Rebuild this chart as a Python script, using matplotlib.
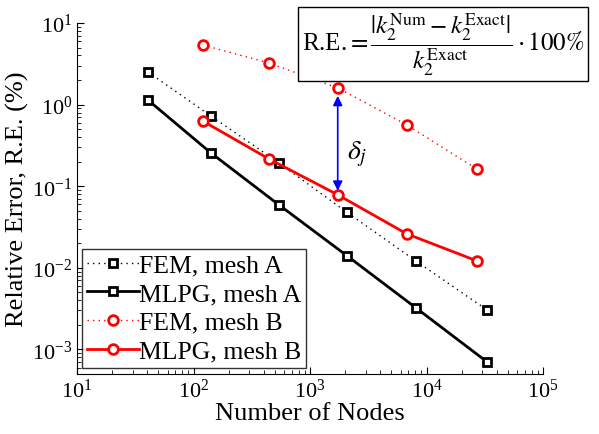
import matplotlib
matplotlib.use("Agg")
import matplotlib.pyplot as plt

plt.rcParams['font.family'] = 'serif'
plt.rcParams['font.serif'] = ['Liberation Serif', 'DejaVu Serif']
plt.rcParams['mathtext.fontset'] = 'stix'

# Data
nodes_A = [40.6, 141, 540, 2070, 8070, 32800]
fem_A = [2.51, 0.727, 0.193, 0.048, 0.0122, 0.00307]
mlpg_A = [1.14, 0.256, 0.0592, 0.0141, 0.00325, 0.00071]
nodes_B = [120, 444, 1730, 6760, 26900]
fem_B = [5.38, 3.24, 1.60, 0.565, 0.163]
mlpg_B = [0.63, 0.216, 0.0785, 0.0261, 0.0122]
labels = ['FEM, mesh A', 'MLPG, mesh A', 'FEM, mesh B', 'MLPG, mesh B']

fig = plt.figure(figsize=(5.99, 4.35), dpi=100)
ax = fig.add_axes([77/599, 60/435, 466/599, 351/435])

dot = (0, (1, 3))
ax.plot(nodes_A, fem_A, linestyle=dot, color='k', lw=1.0, marker='s', ms=6,
        mfc='white', mec='k', mew=2, label=labels[0])
ax.plot(nodes_A, mlpg_A, linestyle='-', color='k', lw=2.0, marker='s', ms=6,
        mfc='white', mec='k', mew=2, label=labels[1])
ax.plot(nodes_B, fem_B, linestyle=dot, color='red', lw=1.0, marker='o', ms=7,
        mfc='white', mec='red', mew=2, label=labels[2])
ax.plot(nodes_B, mlpg_B, linestyle='-', color='red', lw=2.0, marker='o', ms=7,
        mfc='white', mec='red', mew=2, label=labels[3])

ax.set_xscale('log')
ax.set_yscale('log')
ax.set_xlim(10, 1e5)
ax.set_ylim(5e-4, 10)
ax.spines['top'].set_visible(False)
ax.spines['right'].set_visible(False)
ax.tick_params(which='both', direction='in', labelsize=16)
ax.tick_params(which='major', length=5)
ax.tick_params(which='minor', length=3)
ax.set_xlabel('Number of Nodes', fontsize=19, labelpad=0)
ax.set_ylabel('Relative Error, R.E. (%)', fontsize=19, labelpad=2)

leg = ax.legend(loc='lower left', bbox_to_anchor=(0.011, 0.018), fontsize=18.5,
                frameon=True, fancybox=False, edgecolor='k', handlelength=2.0,
                handletextpad=0.0, borderpad=0.2, labelspacing=0.22,
                borderaxespad=0)
leg.get_frame().set_linewidth(1.0)

# arrow delta_j
xj = nodes_B[2]
ax.annotate('', xy=(xj, fem_B[2] * 0.80), xytext=(xj, mlpg_B[2] * 1.12),
            arrowprops=dict(arrowstyle='<|-|>', color='blue', lw=1.2,
                            mutation_scale=14, shrinkA=0, shrinkB=0))
ax.text(xj * 1.2, 0.25, r'$\delta_j$', fontsize=20, va='center', ha='left')

fig.text(443/599, 1 - 45/435,
         r'R.E.$=\dfrac{|k_2^{\mathrm{Num}}-k_2^{\mathrm{Exact}}|}{k_2^{\mathrm{Exact}}}\cdot 100\%$',
         fontsize=18, ha='center', va='center',
         bbox=dict(boxstyle='square,pad=0.15', fc='white', ec='k', lw=1.0))

fig.savefig('out.png', dpi=100)
